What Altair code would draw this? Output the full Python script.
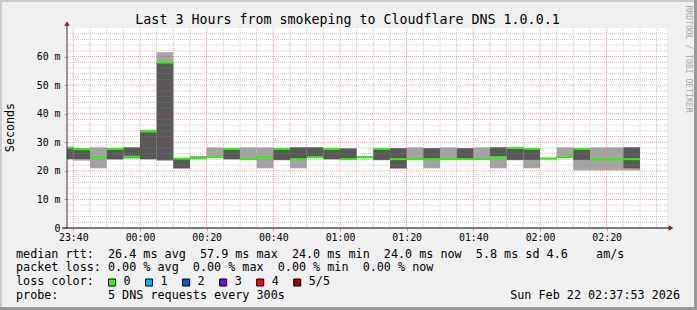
import altair as alt
import pandas as pd

# ---------------- data ----------------
bin_end = ["23:40", "23:45", "23:50", "23:55", "00:00", "00:05", "00:10", "00:15",
           "00:20", "00:25", "00:30", "00:35", "00:40", "00:45", "00:50", "00:55",
           "01:00", "01:05", "01:10", "01:15", "01:20", "01:25", "01:30", "01:35",
           "01:40", "01:45", "01:50", "01:55", "02:00", "02:05", "02:10", "02:15",
           "02:20", "02:25", "02:30"]
ping1 = [24.0, 23.6, 20.9, 23.9, 24.3, 24.0, 23.6, 20.8, 24.1, 24.6, 24.0, 23.9,
         20.9, 23.7, 20.9, 24.5, 24.0, 23.9, 24.4, 23.7, 20.8, 23.9, 20.9, 23.9,
         23.9, 23.9, 20.9, 23.7, 20.9, 24.1, 24.5, 20.2, 20.2, 20.2, 20.2]
ping2 = [24.1, 24.1, 24.6, 24.1, 24.5, 24.1, 23.7, 20.9, 24.2, 24.7, 24.1, 24.0,
         24.5, 23.8, 24.0, 24.6, 24.1, 24.0, 24.6, 23.8, 20.9, 24.0, 24.0, 24.0,
         24.0, 24.0, 24.6, 23.8, 23.8, 24.2, 24.6, 23.8, 23.9, 23.9, 20.9]
median = [28.1, 27.6, 24.9, 27.7, 24.9, 33.8, 57.9, 24.3, 24.4, 24.9, 27.7, 24.1,
          24.8, 27.7, 24.1, 24.8, 27.7, 24.1, 24.8, 27.7, 24.1, 24.1, 24.1, 24.1,
          24.1, 24.1, 24.8, 28.0, 27.7, 24.3, 24.9, 27.7, 24.1, 24.1, 24.1]
ping4 = [28.3, 27.8, 25.2, 27.9, 28.2, 33.9, 58.0, 24.4, 24.7, 25.1, 27.9, 24.4,
         25.0, 27.9, 28.2, 28.2, 27.9, 27.8, 25.0, 27.9, 27.9, 24.4, 27.9, 24.4,
         27.9, 24.4, 28.2, 28.2, 27.9, 24.4, 25.1, 27.9, 24.3, 24.3, 28.2]
ping5 = [28.4, 28.0, 28.2, 28.0, 28.3, 34.4, 61.5, 24.5, 25.2, 28.2, 28.0, 28.2,
         28.2, 28.0, 28.3, 28.3, 28.0, 27.9, 25.2, 28.0, 28.0, 28.2, 28.0, 28.2,
         28.0, 28.2, 28.3, 28.3, 28.0, 24.6, 28.2, 28.0, 28.2, 28.2, 28.3]

x_tick_labels = ["23:40", "00:00", "00:20", "00:40", "01:00", "01:20", "01:40", "02:00", "02:20"]
y_tick_values = [0, 10, 20, 30, 40, 50, 60]
y_tick_labels = ["0  ", "10 m", "20 m", "30 m", "40 m", "50 m", "60 m"]

title_text = "Last 3 Hours from smokeping to Cloudflare DNS 1.0.0.1"
y_title = "Seconds"
watermark = "RRDTOOL / TOBI OETIKER"

rtt_avg, rtt_max, rtt_min, rtt_now, rtt_sd, rtt_ams = "26.4", "57.9", "24.0", "24.0", "5.8", "4.6"
loss_avg, loss_max, loss_min, loss_now = "0.00", "0.00", "0.00", "0.00"
loss_labels = ["0", "1", "2", "3", "4", "5/5"]
loss_colors = ["#26ff00", "#00b8ff", "#0059ff", "#7e00ff", "#ff0000", "#a00000"]
probe_text = "5 DNS requests every 300s"
date_text = "Sun Feb 22 02:37:53 2026"


def to_min(s):
    h, m = map(int, s.split(":"))
    return (h - 23) * 60 + m if h >= 12 else (h + 1) * 60 + m


df = pd.DataFrame({"end": [to_min(t) for t in bin_end],
                   "p1": ping1, "p2": ping2, "med": median, "p4": ping4, "p5": ping5})
df["start"] = df["end"] - 5

x_tick_vals = [to_min(t) for t in x_tick_labels]
X0 = 38.1
xscale = alt.Scale(domain=[X0, X0 + 180], nice=False, zero=False)
yscale = alt.Scale(domain=[0, 70], nice=False, zero=True)

MONO = "DejaVu Sans Mono"
NB = "\u00a0"


def nb(s):
    return s.replace(" ", NB)


x_expr = "[" + ",".join("'%s'" % l for l in x_tick_labels) + "][round((datum.value - %d) / 20)]" % x_tick_vals[0]
y_expr = "[" + ",".join("'%s'" % nb(l) for l in y_tick_labels) + "][round(datum.value / 10)]"

xaxis = alt.Axis(values=x_tick_vals, labelExpr=x_expr, title=None, domain=False, grid=False,
                 ticks=True, tickSize=3, tickColor="#e09090", labelFont=MONO, labelFontSize=9.9,
                 labelColor="#000000", labelPadding=9.7, labelBaseline="alphabetic", labelFlush=False)
yaxis = alt.Axis(values=y_tick_values, labelExpr=y_expr, title=None, domain=False, grid=False,
                 ticks=True, tickSize=3, tickColor="#e09090", labelFont=MONO, labelFontSize=9.9,
                 labelColor="#000000", labelPadding=4, labelBaseline="middle", labelFlush=False)


def X(field):
    return alt.X(field, scale=xscale, axis=xaxis, title=None)


def Y(field):
    return alt.Y(field, scale=yscale, axis=yaxis, title=None)


base = alt.Chart(df)
light = base.mark_rect(color="#a4a4a4", clip=True).encode(
    x=X("start:Q"), x2="end:Q", y=Y("p1:Q"), y2="p5:Q")
dark = base.mark_rect(color="#585858", clip=True).encode(
    x=X("start:Q"), x2="end:Q", y=Y("p2:Q"), y2="p4:Q")
green = base.transform_calculate(lo="datum.med - 0.35", hi="datum.med + 0.35").mark_rect(
    color=loss_colors[0], clip=True).encode(
    x=X("start:Q"), x2="end:Q", y=Y("lo:Q"), y2="hi:Q")

minor_x = [m for m in range(40, 218, 5) if m not in x_tick_vals]
minor_y = [v for v in range(2, 70, 2) if v % 10]
major_y = [v for v in y_tick_values if v > 0]


def vgrid(vals, color, op):
    return alt.Chart(pd.DataFrame({"gx": vals})).mark_rule(
        color=color, opacity=op, strokeDash=[1, 1], strokeWidth=1).encode(x=X("gx:Q"))


def hgrid(vals, color, op):
    return alt.Chart(pd.DataFrame({"gy": vals})).mark_rule(
        color=color, opacity=op, strokeDash=[1, 1], strokeWidth=1).encode(y=Y("gy:Q"))


one = pd.DataFrame({"k": [0]})


def text_layer(txt, x, y, size, align="left", angle=0, color="#000000", baseline="alphabetic"):
    return alt.Chart(pd.DataFrame({"t": [nb(txt)]})).mark_text(
        font=MONO, fontSize=size, align=align, baseline=baseline, angle=angle, color=color).encode(
        text="t:N", x=alt.value(x), y=alt.value(y))


def box(x1, x2, y1, y2, color, stroke=None):
    kw = {"color": color}
    if stroke:
        kw = {"fill": color, "stroke": stroke, "strokeWidth": 1}
    return alt.Chart(one).mark_rect(**kw).encode(
        x=alt.value(x1), x2=alt.value(x2), y=alt.value(y1), y2=alt.value(y2))


axis_y_line = box(-0.5, 0.5, -3, 200, "#333333")
axis_x_line = box(-5, 602, 199.5, 200.5, "#000000")
arrow_up = alt.Chart(one).mark_point(shape="triangle-up", filled=True, size=30, color="#a01818", opacity=1).encode(
    x=alt.value(0), y=alt.value(-4.5))
arrow_right = alt.Chart(one).mark_point(shape="triangle-right", filled=True, size=30, color="#a01818", opacity=1).encode(
    x=alt.value(604), y=alt.value(200))

line1 = ("median rtt:  %s ms avg  %s ms max  %s ms min  %s ms now  %s ms sd %s    am/s"
         % (rtt_avg, rtt_max, rtt_min, rtt_now, rtt_sd, rtt_ams))
line2 = "packet loss: %s %% avg  %s %% max  %s %% min  %s %% now" % (loss_avg, loss_max, loss_min, loss_now)
line3 = "loss color:"
line4 = "probe:       " + probe_text

LX = 16 - 67
layers = [light, dark, green,
          vgrid(minor_x, "#8c8c8c", 0.45), hgrid(minor_y, "#8c8c8c", 0.45),
          vgrid(x_tick_vals, "#dd3333", 0.45), hgrid(major_y, "#dd3333", 0.45),
          axis_y_line, axis_x_line, arrow_up, arrow_right,
          text_layer(title_text, 347.5 - 67, -4, 13.3, align="center"),
          text_layer(y_title, 10 - 67, 99.5, 11.7, align="center", angle=270, baseline="middle"),
          text_layer(watermark, 687.5 - 67, 31, 8.1, align="center", angle=90, color="#a8a8a8", baseline="middle"),
          text_layer(line1, LX, 229.7, 11.75),
          text_layer(line2, LX, 243.3, 11.75),
          text_layer(line3, LX, 257.0, 11.75),
          text_layer(line4, LX, 270.5, 11.75),
          text_layer(date_text, 680 - 67, 270.5, 11.75, align="right"),
          # frame shading
          box(-67, 630, -28, -26, "#cbcbcb"), box(-67, -65, -28, 282, "#cbcbcb"),
          box(-67, 630, 279, 282, "#999999"), box(627, 630, -28, 282, "#999999")]

for i, (lab, col) in enumerate(zip(loss_labels, loss_colors)):
    sx = 108.5 - 67 + i * 37.05
    layers.append(box(sx, sx + 7, 251, 258, col, stroke="#000000"))
    layers.append(text_layer(lab, sx + 15, 257.0, 11.75))

chart = alt.layer(*layers).properties(
    width=600, height=200,
    padding={"left": 67, "top": 28, "right": 30, "bottom": 82},
    autosize=alt.AutoSizeParams(type="none"),
    background="#f0f0f0",
).configure_view(fill="white", stroke=None)

chart.save("out.html", embed_options={"renderer": "svg", "actions": False})
